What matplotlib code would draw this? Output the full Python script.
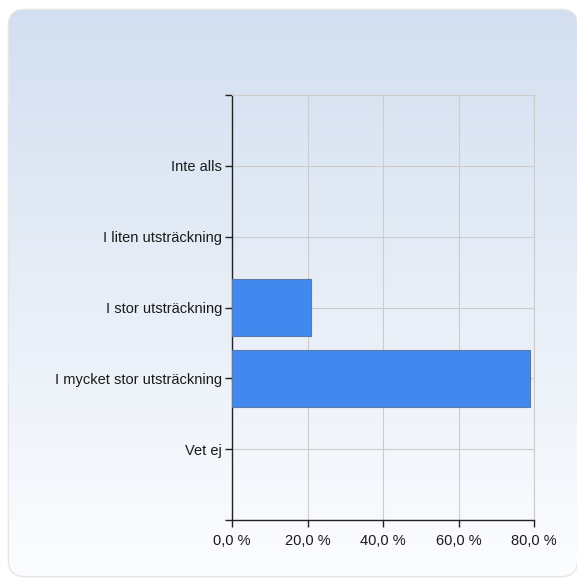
import numpy as np
import matplotlib
matplotlib.use("Agg")
import matplotlib.pyplot as plt
from matplotlib.patches import FancyBboxPatch

# Data
categories = ["Inte alls", "I liten utsträckning", "I stor utsträckning",
              "I mycket stor utsträckning", "Vet ej"]
percent = [0.0, 0.0, 21.0, 79.0, 0.0]
x_ticks = [0, 20, 40, 60, 80]
x_tick_labels = ["0,0 %", "20,0 %", "40,0 %", "60,0 %", "80,0 %"]

W, H = 577, 578
fig = plt.figure(figsize=(W / 100, H / 100), dpi=100)
fig.patch.set_facecolor("white")

# Background panel with gradient and rounded corners
bg = fig.add_axes([0, 0, 1, 1])
bg.set_xlim(0, W)
bg.set_ylim(H, 0)
bg.axis("off")
shadow = FancyBboxPatch((9, 10), 568, 566, boxstyle="round,pad=0,rounding_size=16",
                        facecolor="none", edgecolor="#e6e6e6", linewidth=2.0)
bg.add_patch(shadow)
panel = FancyBboxPatch((9, 10), 568, 566, boxstyle="round,pad=0,rounding_size=16",
                       facecolor="none", edgecolor="none")
bg.add_patch(panel)
top = np.array([0.827, 0.875, 0.941])
bot = np.array([0.988, 0.992, 1.0])
t = np.linspace(0, 1, 256)[:, None]
grad = (top * (1 - t) + bot * t)[:, None, :]
im = bg.imshow(grad, extent=[9, 577, 576, 10], aspect="auto", zorder=1)
im.set_clip_path(panel)

# Main plot
ax = fig.add_axes([232 / W, 1 - 520 / H, (534 - 232) / W, (520 - 95) / H])
ax.patch.set_alpha(0)
ypos = np.arange(1, len(categories) + 1)
bars = ax.barh(ypos, percent, height=0.8, color="#4189ee", edgecolor="#5a7aa8",
               linewidth=0.8, zorder=3)
for b, v in zip(bars, percent):
    if v == 0:
        b.set_visible(False)

ax.set_xlim(0, 80)
ax.set_ylim(6, 0)
ax.set_xticks(x_ticks)
ax.set_xticklabels(x_tick_labels)
ax.set_yticks(np.arange(0, 7))
ax.set_yticklabels([""] + categories + [""])

ax.grid(True, color="#cccccc", linewidth=0.8, zorder=0)
for side in ["top", "right"]:
    ax.spines[side].set_color("#cccccc")
    ax.spines[side].set_linewidth(0.8)
for side in ["left", "bottom"]:
    ax.spines[side].set_color("#222222")
    ax.spines[side].set_linewidth(1.0)

ax.tick_params(axis="both", direction="out", length=5, width=1.0,
               color="#222222", labelsize=10.5, labelcolor="#1a1a1a")
ax.tick_params(axis="x", pad=5)
ax.tick_params(axis="y", pad=2)
for lab in ax.get_xticklabels() + ax.get_yticklabels():
    lab.set_fontfamily("Liberation Sans")

fig.savefig("out.png", dpi=100)
